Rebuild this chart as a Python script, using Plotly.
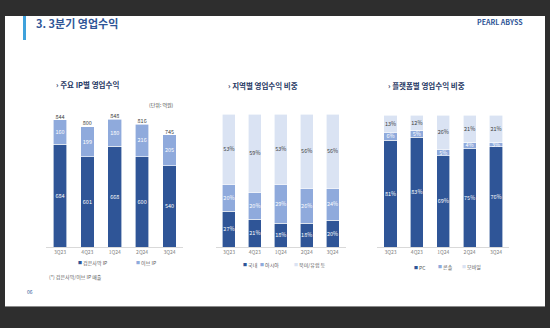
import plotly.graph_objects as go

W, H = 550, 328
FONT = "Noto Sans CJK KR"

quarters = ["3Q23", "4Q23", "1Q24", "2Q24", "3Q24"]

# Chart 1: 주요 IP별 영업수익 (억원)
bdo = [684, 601, 668, 600, 540]
eve = [160, 199, 180, 216, 205]
totals = [844, 800, 848, 816, 745]

# Chart 2: 지역별 영업수익 비중 (%)
domestic = [27, 21, 18, 18, 20]
asia = [20, 20, 29, 26, 24]
na_eu = [53, 59, 53, 56, 56]

# Chart 3: 플랫폼별 영업수익 비중 (%)
pc = [81, 83, 69, 75, 76]
console = [6, 5, 5, 4, 3]
mobile = [13, 12, 26, 21, 21]

DARK = "#2f5597"
MID = "#8faadc"
LIGHT = "#dae3f3"
TXT = "#404040"


def px(x):
    return x / W


def py(y):
    return 1 - y / H


fig = go.Figure()


def bar(name, x, y, color, xa, ya, textcolor, fmt):
    fig.add_trace(go.Bar(
        name=name, x=x, y=y, xaxis=xa, yaxis=ya,
        marker=dict(color=color, line=dict(color="white", width=0.6)),
        text=[fmt(v) for v in y], textposition="inside",
        insidetextanchor="middle", textangle=0,
        textfont=dict(color=textcolor, size=5.5, family=FONT),
        showlegend=False, hoverinfo="skip", cliponaxis=False,
    ))


bar("검은사막 IP", quarters, bdo, DARK, "x", "y", "white", lambda v: f"{v}")
bar("이브 IP", quarters, eve, MID, "x", "y", "white", lambda v: f"{v}")
fig.add_trace(go.Scatter(
    x=quarters, y=totals, xaxis="x", yaxis="y", mode="text",
    text=[str(t) for t in totals], textposition="top center",
    textfont=dict(color=TXT, size=5.5, family=FONT),
    showlegend=False, hoverinfo="skip", cliponaxis=False,
))

bar("국내", quarters, domestic, DARK, "x2", "y2", "white", lambda v: f"{v}%")
bar("아시아", quarters, asia, MID, "x2", "y2", "white", lambda v: f"{v}%")
bar("북미/유럽 등", quarters, na_eu, LIGHT, "x2", "y2", TXT, lambda v: f"{v}%")

bar("PC", quarters, pc, DARK, "x3", "y3", "white", lambda v: f"{v}%")
bar("콘솔", quarters, console, MID, "x3", "y3", "white", lambda v: f"{v}%")
bar("모바일", quarters, mobile, LIGHT, "x3", "y3", TXT, lambda v: f"{v}%")


def xaxis(x0, x1):
    return dict(domain=[px(x0), px(x1)], type="category", range=[-0.5, 4.5],
                showgrid=False, zeroline=False, showline=True,
                linecolor="#d9d9d9", linewidth=1,
                ticks="", ticklen=0,
                tickfont=dict(size=5, color="#808080", family=FONT),
                fixedrange=True)


def yaxis(anchor, ytop, ybot, rng):
    return dict(domain=[py(ybot), py(ytop)], range=rng, visible=False,
                anchor=anchor, fixedrange=True)


fig.update_layout(
    width=W, height=H, margin=dict(l=0, r=0, t=0, b=0),
    paper_bgcolor="#2e2e2e", plot_bgcolor="rgba(0,0,0,0)",
    barmode="stack", bargap=0.5,
    uniformtext=dict(minsize=5.5, mode="show"),
    font=dict(family=FONT),
    xaxis=dict(xaxis(46.3, 183.2), anchor="y"),
    yaxis=yaxis("x", 247 - 900 * 0.1505, 247, [0, 900]),
    xaxis2=dict(xaxis(216, 345.5), anchor="y2"),
    yaxis2=yaxis("x2", 114, 247, [0, 100]),
    xaxis3=dict(xaxis(377.3, 509.2), anchor="y3"),
    yaxis3=yaxis("x3", 115, 247, [0, 100]),
)

shapes = [
    dict(type="rect", xref="paper", yref="paper", x0=px(5), x1=px(545),
         y0=py(307), y1=py(306), fillcolor="#8a8a8a", line_width=0, layer="below"),
    dict(type="rect", xref="paper", yref="paper", x0=px(5), x1=px(545),
         y0=py(306), y1=py(16), fillcolor="white", line_width=0, layer="below"),
    dict(type="rect", xref="paper", yref="paper", x0=px(23), x1=px(26),
         y0=py(40), y1=py(16), fillcolor="#3fa2dc", line_width=0, layer="below"),
]
fig.update_layout(shapes=shapes)


def ann(text, x, y, size, color, xanchor="left", bold=False):
    if bold:
        text = f"<b>{text}</b>"
    return dict(text=text, x=px(x), y=py(y), xref="paper", yref="paper",
                xanchor=xanchor, yanchor="middle", showarrow=False,
                font=dict(size=size, color=color, family=FONT))


def legend_item(label, color, x, y):
    return ann(f"<span style='color:{color};font-size:4px'>■</span> {label}",
               x, y, 5, "#595959")


anns = [
    ann("3. 3분기 영업수익", 34, 23, 11, "#2f5597", bold=True),
    ann("PEARL ABYSS", 525, 22, 7, "#2f5597", xanchor="right", bold=True),
    ann("› 주요 IP별 영업수익", 54, 84, 7.5, "#1f3864", bold=True),
    ann("› 지역별 영업수익 비중", 226, 85, 7.5, "#1f3864", bold=True),
    ann("› 플랫폼별 영업수익 비중", 386, 85, 7.5, "#1f3864", bold=True),
    ann("(단위: 억원)", 147, 105, 5, TXT),
    legend_item("검은사막 IP", DARK, 76, 263),
    legend_item("이브 IP", MID, 134, 263),
    legend_item("국내", DARK, 241, 265),
    legend_item("아시아", MID, 258, 265),
    legend_item("북미/유럽 등", LIGHT, 292, 265),
    legend_item("PC", DARK, 412, 267),
    legend_item("콘솔", MID, 436, 267),
    legend_item("모바일", LIGHT, 460, 267),
    ann("(*) 검은사막/이브 IP 매출", 47, 277, 5, "#595959"),
    ann("06", 25, 291, 5, "#2f5597"),
]
fig.update_layout(annotations=anns)

fig.write_html("out.html")
